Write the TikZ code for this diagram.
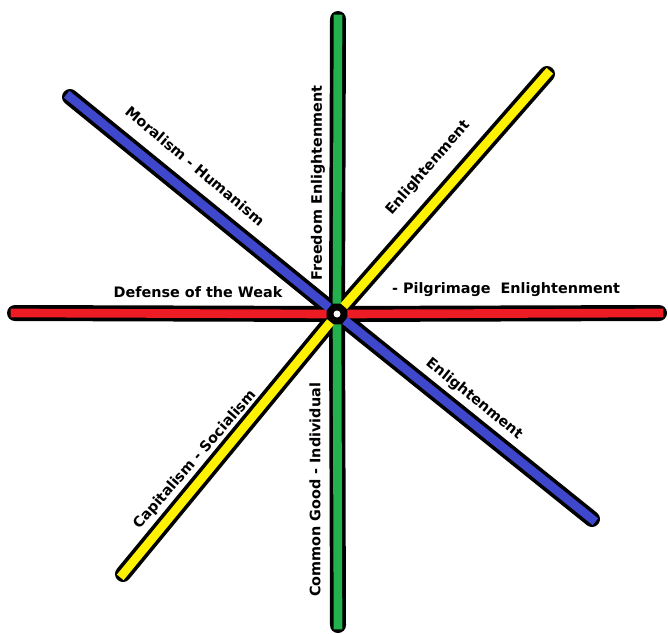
\documentclass[tikz,border=0pt]{standalone}
\usepackage{fontspec}
\setmainfont{DejaVu Sans}
\usetikzlibrary{calc}
\definecolor{paintred}{RGB}{237,28,36}
\definecolor{paintgreen}{RGB}{34,177,76}
\definecolor{paintblue}{RGB}{63,72,204}
\definecolor{paintyellow}{RGB}{255,242,0}
\tikzset{
  bar/.style={draw=black,line width=12pt,line cap=round,line join=round},
  strip/.style={draw=#1,line width=6.5pt,line cap=rect,shorten <=11pt},
  strip/.default=paintred,
  tag/.style={font=\fontsize{10.8}{13}\selectfont\bfseries,inner sep=1pt},
}

\begin{document}
\begin{tikzpicture}[x=0.75pt,y=-0.75pt]
    \useasboundingbox (0,0) rectangle (668,633);
    \coordinate (c) at (337,314);
    \coordinate (rW) at (15,313);  \coordinate (rE) at (659,313);
    \coordinate (gN) at (338,19);  \coordinate (gS) at (338,625);
    \coordinate (bNW) at (70,97);  \coordinate (bSE) at (592,519);
    \coordinate (yNE) at (547,74); \coordinate (ySW) at (123,574);
    % black bars
    \foreach \a/\b in {rW/rE,gN/gS,bNW/bSE,yNE/ySW}
      \draw[bar] (\a) -- (c) -- (\b);
    % coloured strips
    \foreach \e/\c in {rW/paintred,rE/paintred,gN/paintgreen,gS/paintgreen,
      bNW/paintblue,bSE/paintblue,yNE/paintyellow,ySW/paintyellow}
      \draw[strip=\c] (c) -- (\e);
    \fill[white] (c) circle (3.5);
    % labels
    \node[tag,rotate=-40] (moral) at (195,166) {Moralism - Humanism};
    \node[tag,rotate=90] (freedom) at (318,183) {Freedom Enlightenment};
    \node[tag,rotate=49] (enlNE) at (428,168) {Enlightenment};
    \node[tag] (weak) at (198,292) {Defense of the Weak};
    \node[tag] (pilgrim) at (506,290) {- Pilgrimage\ \ Enlightenment};
    \node[tag,rotate=-39] (enlSE) at (474,399) {Enlightenment};
    \node[tag,rotate=49] (capital) at (195,460) {Capitalism - Socialism};
    \node[tag,rotate=90] (common) at (315,490) {Common Good - Individual};
\end{tikzpicture}
\end{document}
